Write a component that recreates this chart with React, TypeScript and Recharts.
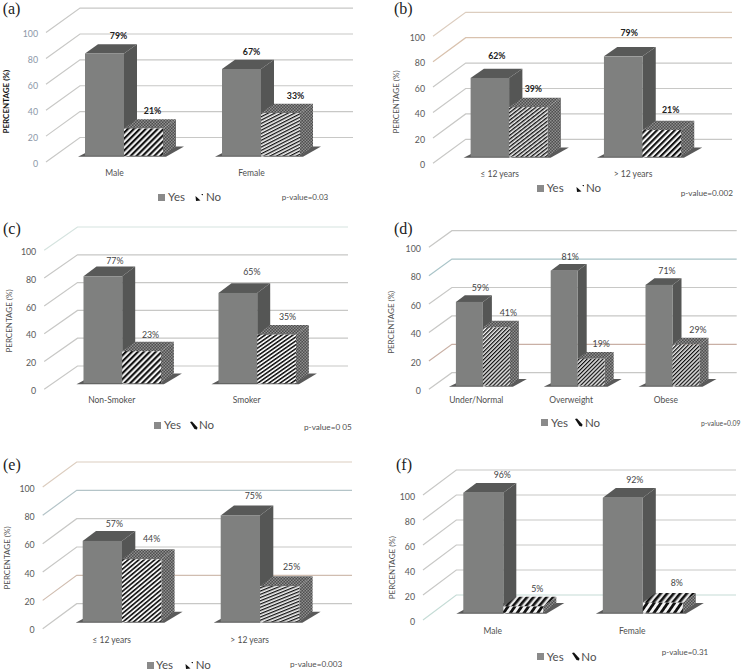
import React from 'react';
import { BarChart, Bar, XAxis, YAxis, CartesianGrid, Legend, LabelList } from 'recharts';

const FONT = 'Lato, "Open Sans", sans-serif';
const yTicks = [0, 20, 40, 60, 80, 100];
const seriesYes = 'Yes';
const seriesNo = 'No';

const catsA = ['Male', 'Female'];
const yesA = [79, 67];
const noA = [21, 33];
const catsB = ['≤ 12 years', '> 12 years'];
const yesB = [62, 79];
const noB = [39, 21];
const catsC = ['Non-Smoker', 'Smoker'];
const yesC = [77, 65];
const noC = [23, 35];
const catsD = ['Under/Normal', 'Overweight', 'Obese'];
const yesD = [59, 81, 71];
const noD = [41, 19, 29];
const catsE = ['≤ 12 years', '> 12 years'];
const yesE = [57, 75];
const noE = [44, 25];
const catsF = ['Male', 'Female'];
const yesF = [96, 92];
const noF = [5, 8];

type Panel = any;

const panels: Panel[] = [
  {
    id: 'a', letter: '(a)', p: 'p-value=0.03', pSize: 8, cats: catsA, yes: yesA, no: noA,
    box: [0, 0, 370, 215], left: 46, right: 320, y0: 162, y100: 32.6, wallDx: 34, wallDy: 24.5, wallRight: 353,
    ox: 9, oy: 6.3, barW: 39, depX: 13, depY: 9.3, bold: true, axisBold: true, tickFill: '#8b97a8',
    nudge: [[14, -18], [9, -18], [10, -18], [15, -17]],
    stripes: [[4.2, -45, 2.1], [3, -27, 1.3]], tint: {},
    yLabel: [6, 101.7], letterPos: [2.7, 14], pPos: [281.7, 196.7],
    legend: { y: 197, sq: 158, yes: 168, icon: 195, no: 206, kind: 'corner' },
  },
  {
    id: 'b', letter: '(b)', p: 'p-value=0.002', pSize: 8.2, cats: catsB, yes: yesB, no: noB,
    box: [370, 0, 371, 215], left: 433, right: 699.7, y0: 163.3, y100: 36.3, wallDx: 32.7, wallDy: 24, wallRight: 732,
    ox: 9.6, oy: 6.6, barW: 38.5, depX: 13.3, depY: 9.3, bold: true, axisBold: false, tickFill: '#595959',
    nudge: [[7, -22], [5, -19], [6, -24], [9, -21]],
    stripes: [[3, -38, 1.4], [4.2, -45, 2.1]], tint: { 100: '#dccdbf', 80: '#d9c2ae' },
    yLabel: [396, 102], letterPos: [394, 14], pPos: [680.7, 193],
    legend: { y: 188, sq: 536.7, yes: 546.7, icon: 575.7, no: 586, kind: 'corner' },
  },
  {
    id: 'c', letter: '(c)', p: 'p-value=0 05', pSize: 8.2, cats: catsC, yes: yesC, no: noC,
    box: [0, 215, 370, 225], left: 44.2, right: 314.2, y0: 389.3, y100: 250.3, wallDx: 33.3, wallDy: 23.3, wallRight: 348,
    ox: 10.3, oy: 6, barW: 38.7, depX: 13, depY: 9.7, bold: false, axisBold: false, tickFill: '#595959',
    nudge: [[12, -16], [9, -17], [14, -21], [11, -18]],
    stripes: [[4.2, -45, 2.1], [3.2, -35, 1.5]], tint: { 100: '#d5e3df' },
    yLabel: [9, 321], letterPos: [3, 234], pPos: [304, 427],
    legend: { y: 425.3, sq: 154, yes: 164, icon: 189, no: 199, kind: 'line' },
  },
  {
    id: 'd', letter: '(d)', p: 'p-value=0.09', pSize: 6.8, cats: catsD, yes: yesD, no: noD,
    box: [370, 215, 371, 225], left: 428.9, right: 713.3, y0: 389.3, y100: 247.3, wallDx: 23, wallDy: 16.6, wallRight: 736.7,
    ox: 7, oy: 3.6, barW: 27, depX: 9, depY: 6.7, bold: false, axisBold: false, tickFill: '#595959',
    nudge: [[11, -14], [12, -15], [6, -14], [10, -15], [8, -14], [12, -15]],
    stripes: [[2.8, -45, 1.3], [2.8, -45, 1.3]], tint: { 80: '#a9c4c8', 20: '#c9b0a5' },
    yLabel: [390.7, 322.3], letterPos: [394, 234], pPos: [701, 422.7],
    legend: { y: 422.7, sq: 541.3, yes: 551, icon: 574, no: 585, kind: 'line' },
  },
  {
    id: 'e', letter: '(e)', p: 'p-value=0.003', pSize: 8.2, cats: catsE, yes: yesE, no: noE,
    box: [0, 440, 370, 231], left: 42.7, right: 318.7, y0: 628.7, y100: 487, wallDx: 34, wallDy: 25, wallRight: 352,
    ox: 10, oy: 7, barW: 39.3, depX: 13.3, depY: 10, bold: false, axisBold: false, tickFill: '#595959',
    nudge: [[12, -17], [10, -21], [13, -20], [12, -20]],
    stripes: [[3.4, -40, 1.6], [3, -22, 1.3]], tint: { 100: '#dccdbf', 80: '#b4c4c8', 20: '#d0bdb0' },
    yLabel: [6.7, 558], letterPos: [3, 470], pPos: [290, 664],
    legend: { y: 665, sq: 146.7, yes: 156, icon: 185, no: 195.7, kind: 'corner' },
  },
  {
    id: 'f', letter: '(f)', p: 'p-value=0.31', pSize: 8, cats: catsF, yes: yesF, no: noF,
    box: [370, 440, 371, 231], left: 423, right: 702, y0: 620, y100: 495, wallDx: 33.3, wallDy: 25, wallRight: 736,
    ox: 10.3, oy: 7.3, barW: 40, depX: 13, depY: 9.7, bold: false, axisBold: false, tickFill: '#595959',
    nudge: [[19, -18], [14, -18], [12, -18], [14, -20]],
    stripes: [[5.6, -55, 2.8], [5.6, -55, 2.8]], tint: { 0: '#c5dcd6' }, stripedTop: true,
    yLabel: [391.7, 567.7], letterPos: [396, 470], pPos: [661.7, 652],
    legend: { y: 656.7, sq: 536.7, yes: 546.7, icon: 571, no: 581.3, kind: 'line' },
  },
];

function Defs({ panel }: { panel: Panel }) {
  return (
    <defs>
      {panel.stripes.map((s: number[], i: number) => (
        <pattern key={i} id={`st-${panel.id}-${i}`} patternUnits="userSpaceOnUse" width={s[0]} height={s[0]} patternTransform={`rotate(${s[1]})`}>
          <rect width={s[0]} height={s[0]} fill="#f4f4f4" />
          <rect width={s[0]} height={s[2]} fill="#111" />
        </pattern>
      ))}
      <pattern id={`ck-${panel.id}`} patternUnits="userSpaceOnUse" width="3" height="3">
        <rect width="3" height="3" fill="#4e4e4e" />
        <rect width="1.5" height="1.5" fill="#8e8e8e" />
        <rect x="1.5" y="1.5" width="1.5" height="1.5" fill="#8e8e8e" />
      </pattern>
      <pattern id={`tp-${panel.id}`} patternUnits="userSpaceOnUse" width="5" height="5" patternTransform="rotate(40)">
        <rect width="5" height="5" fill="#e8e8e8" />
        <rect width="2.6" height="5" fill="#111" />
      </pattern>
    </defs>
  );
}

function Bar3D(props: any) {
  const { x, y, width, height, panel, series, index } = props;
  const { ox, oy, depX: dx, depY: dy } = panel;
  const x0 = x + ox;
  const x1 = x0 + width;
  const yT = y - oy;
  const yB = yT + height;
  const isYes = series === 'yes';
  const sideFill = isYes ? '#555655' : `url(#ck-${panel.id})`;
  const topFill = isYes ? '#585958' : panel.stripedTop ? `url(#tp-${panel.id})` : `url(#ck-${panel.id})`;
  const frontFill = isYes ? '#7f807f' : `url(#st-${panel.id}-${panel.stripes.length > index ? index : 0})`;
  const shadow = isYes
    ? `M${x0 - 7},${yB + 1} L${x1},${yB + 1} L${x1 + dx},${yB - dy} L${x0 + dx},${yB - dy} Z`
    : `M${x0},${yB + 1} L${x1 + 3},${yB + 1} L${x1 + dx + 8},${yB - dy} L${x1 + dx},${yB - dy} Z`;
  return (
    <g>
      <path d={shadow} fill="#5a5a5a" />
      <path d={`M${x1},${yT} L${x1 + dx},${yT - dy} L${x1 + dx},${yB - dy} L${x1},${yB} Z`} fill={sideFill} />
      <path d={`M${x0},${yT} L${x0 + dx},${yT - dy} L${x1 + dx},${yT - dy} L${x1},${yT} Z`} fill={topFill} />
      <rect x={x0} y={yT} width={width} height={height} fill={frontFill} />
    </g>
  );
}

function LegendIcons({ panel, payload }: any) {
  const b = panel.box;
  const L = panel.legend;
  const base: React.CSSProperties = { position: 'absolute', top: L.y - b[1] - 8, fontFamily: FONT, fontSize: 11.5, lineHeight: '16px', color: '#4f4f4f', whiteSpace: 'nowrap' };
  const items = payload || [];
  const yesName = items.find((e: any) => e.dataKey === 'yes')?.value;
  const noName = items.find((e: any) => e.dataKey === 'no')?.value;
  return (
    <div style={{ position: 'relative', width: 0, height: 0 }}>
      <div style={{ position: 'absolute', left: L.sq - b[0], top: L.y - b[1] - 3.5, width: 7, height: 7, background: '#8a8a8a' }} />
      <span style={{ ...base, left: L.yes - b[0] }}>{yesName}</span>
      <svg width="9" height="9" style={{ position: 'absolute', left: L.icon - b[0], top: L.y - b[1] - 4.5 }}>
        {L.kind === 'corner'
          ? <path d="M0.5,3 L5.5,7.5 L1,8 Z M6,1 L8,1 L8,2.6 Z" fill="#111" />
          : <path d="M1,1 L3,0.5 L8.5,6.5 L8,8.5 L5.5,8 Z" fill="#111" />}
      </svg>
      <span style={{ ...base, left: L.no - b[0] }}>{noName}</span>
    </div>
  );
}

function PanelChart({ panel }: { panel: Panel }) {
  const [bx, by, bw, bh] = panel.box;
  const rows = panel.cats.map((c: string, i: number) => ({ cat: c, yes: panel.yes[i], no: panel.no[i] }));
  const yAxisW = 30;
  const xAxisH = 20;
  const gridLine = (g: any) => {
    const v = Math.round(((panel.y0 - (g.y1 + by)) / (panel.y0 - panel.y100)) * 100);
    const xL = panel.left - bx;
    const xR = panel.wallRight - bx;
    return (
      <path
        key={`g-${v}`}
        d={`M${xL},${g.y1} L${xL + panel.wallDx},${g.y1 - panel.wallDy} L${xR},${g.y1 - panel.wallDy}`}
        fill="none"
        stroke={panel.tint[v] || '#c8c8c6'}
        strokeWidth={1.2}
      />
    );
  };
  const label = (series: number) => (lp: any) => {
    const n = panel.nudge[lp.index * 2 + series];
    return (
      <text
        x={lp.x + lp.width / 2 + panel.ox + n[0]}
        y={lp.y - panel.oy + n[1]}
        textAnchor="middle"
        dominantBaseline="central"
        fontFamily={FONT}
        fontSize={8.8}
        fontWeight={panel.bold ? 700 : 400}
        fill={panel.bold ? '#222' : '#444'}
      >
        {`${lp.value}%`}
      </text>
    );
  };
  return (
    <div style={{ position: 'absolute', left: bx, top: by, width: bw, height: bh }}>
      <BarChart
        width={bw}
        height={bh}
        data={rows}
        barSize={panel.barW}
        barGap={0}
        margin={{
          top: panel.y100 - by,
          left: panel.left - bx - yAxisW,
          right: bx + bw - panel.right,
          bottom: by + bh - panel.y0 - xAxisH,
        }}
      >
        <Defs panel={panel} />
        <CartesianGrid vertical={false} horizontal={gridLine} />
        <XAxis dataKey="cat" height={xAxisH} axisLine={false} tickLine={false} tickSize={0} tickMargin={8} interval={0} tick={{ fontFamily: FONT, fontSize: 8.5, fill: '#4f4f4f' }} />
        <YAxis width={yAxisW} domain={[0, 100]} ticks={yTicks} axisLine={false} tickLine={false} tickSize={0} tickMargin={8} tick={{ fontFamily: FONT, fontSize: 8.8, fill: panel.tickFill, dy: 1.5 }} />
        <Legend layout="horizontal" verticalAlign="middle" align="center" wrapperStyle={{ left: 0, top: 0, width: 0, height: 0, margin: 0 }} content={(lp: any) => <LegendIcons panel={panel} payload={lp.payload} />} />
        <Bar dataKey="yes" name={seriesYes} isAnimationActive={false} shape={(p: any) => <Bar3D {...p} panel={panel} series="yes" />}>
          <LabelList dataKey="yes" content={label(0)} />
        </Bar>
        <Bar dataKey="no" name={seriesNo} isAnimationActive={false} shape={(p: any) => <Bar3D {...p} panel={panel} series="no" />}>
          <LabelList dataKey="no" content={label(1)} />
        </Bar>
        <text
          x={panel.yLabel[0] - bx}
          y={panel.yLabel[1] - by}
          transform={`rotate(-90 ${panel.yLabel[0] - bx} ${panel.yLabel[1] - by})`}
          textAnchor="middle"
          dominantBaseline="central"
          fontFamily={FONT}
          fontSize={8}
          fontWeight={panel.axisBold ? 700 : 400}
          fill={panel.axisBold ? '#111' : '#4f4f4f'}
        >
          PERCENTAGE (%)
        </text>
        <text x={panel.letterPos[0] - bx} y={panel.letterPos[1] - by} fontFamily='"Liberation Serif", serif' fontSize={16} fill="#222">
          {panel.letter}
        </text>
        <text x={panel.pPos[0] - bx} y={panel.pPos[1] - by} dominantBaseline="central" fontFamily={FONT} fontSize={panel.pSize} fill="#4f4f4f">
          {panel.p}
        </text>
      </BarChart>
    </div>
  );
}

export default function App() {
  return (
    <div style={{ position: 'absolute', left: 0, top: 0, width: 741, height: 671, overflow: 'hidden', background: '#fff' }}>
      {panels.map((p) => (
        <PanelChart key={p.id} panel={p} />
      ))}
    </div>
  );
}
